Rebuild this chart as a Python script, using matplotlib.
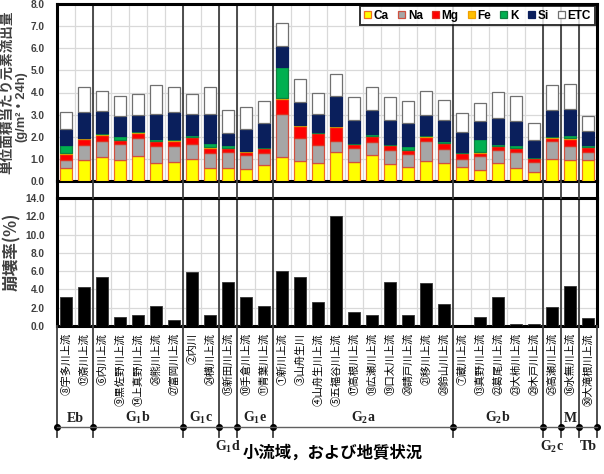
import matplotlib
matplotlib.use("Agg")
import matplotlib.pyplot as plt
import numpy as np
from matplotlib.patches import Patch
from matplotlib.lines import Line2D
from matplotlib.text import Text
from matplotlib.transforms import blended_transform_factory
from matplotlib.ticker import FormatStrFormatter

plt.rcParams['font.family'] = ['Liberation Sans', 'Noto Sans CJK JP', 'DejaVu Sans']
plt.rcParams['mathtext.default'] = 'regular'

stations = ["⑧宇多川上流", "⑫斎川上流", "⑥内川上流", "⑨黒佐野川上流", "⑭上真野川上流",
            "㉖熊川上流", "㉗富岡川上流", "②内川", "㉔横川上流", "⑮新田川上流",
            "⑩手倉川上流", "⑪青葉川上流", "①新川上流", "③山舟生川", "④山舟生川上流",
            "⑤五福谷川上流", "⑰高根川上流", "⑱広瀬川上流", "⑲口太川上流", "⑳請戸川上流",
            "㉑移川上流", "㉘鈴山川上流", "⑦蔵川上流", "⑬真野川上流", "㉒葛尾川上流",
            "㉓大柿川上流", "㉙木戸川上流", "㉕高瀬川上流", "⑯水無川上流", "㉚大滝根川上流"]

# segment values (g/m2/24h)
Ca = [0.61, 0.94, 1.09, 0.97, 1.15, 0.83, 0.88, 1.00, 0.61, 0.58,
      0.54, 0.71, 1.09, 0.91, 0.83, 1.31, 0.86, 1.18, 0.79, 0.64,
      0.91, 0.82, 0.65, 0.49, 0.80, 0.58, 0.42, 1.00, 0.94, 0.95]
Na = [0.33, 0.68, 0.71, 0.68, 0.81, 0.75, 0.71, 0.68, 0.67, 0.74,
      0.64, 0.55, 1.96, 1.04, 0.79, 0.49, 0.61, 0.59, 0.61, 0.57,
      0.89, 0.61, 0.36, 0.64, 0.60, 0.74, 0.43, 0.83, 0.64, 0.37]
Mg = [0.30, 0.30, 0.30, 0.20, 0.23, 0.22, 0.24, 0.30, 0.22, 0.15,
      0.14, 0.21, 0.66, 0.54, 0.54, 0.66, 0.18, 0.25, 0.22, 0.17,
      0.21, 0.27, 0.25, 0.15, 0.18, 0.15, 0.18, 0.12, 0.34, 0.21]
Fe = [0.02, 0.02, 0.02, 0.02, 0.02, 0.02, 0.02, 0.02, 0.02, 0.02,
      0.02, 0.02, 0.02, 0.02, 0.02, 0.02, 0.02, 0.02, 0.02, 0.02,
      0.02, 0.02, 0.02, 0.02, 0.02, 0.02, 0.02, 0.02, 0.02, 0.02]
K = [0.36, 0.01, 0.07, 0.18, 0.04, 0.08, 0.05, 0.07, 0.21, 0.13,
     0.01, 0.04, 1.43, 0.03, 0.04, 0.01, 0.06, 0.10, 0.04, 0.18,
     0.07, 0.11, 0.01, 0.60, 0.05, 0.12, 0.04, 0.08, 0.16, 0.07]
Si = [0.73, 1.16, 0.96, 0.91, 0.74, 1.11, 1.21, 0.97, 1.28, 0.55,
      1.00, 1.07, 0.96, 1.05, 0.80, 1.37, 1.04, 1.07, 1.06, 1.02,
      0.88, 0.94, 0.91, 0.82, 1.19, 1.11, 0.77, 1.15, 1.16, 0.66]
ETC = [0.76, 1.16, 0.94, 0.88, 0.94, 1.35, 1.16, 0.89, 1.26, 1.04,
       0.98, 1.03, 1.02, 1.01, 0.95, 0.99, 1.02, 1.05, 1.04, 1.02,
       1.08, 0.89, 0.88, 0.81, 1.18, 1.10, 0.77, 1.12, 1.14, 0.65]

collapse = [3.2, 4.3, 5.35, 0.95, 1.2, 2.2, 0.7, 5.95, 1.2, 4.8,
            3.2, 2.2, 6.0, 5.4, 2.6, 12.0, 1.55, 1.2, 4.8, 1.25,
            4.75, 2.45, 0.0, 1.0, 3.2, 0.2, 0.2, 2.05, 4.4, 0.9]

series_names = ["Ca", "Na", "Mg", "Fe", "K", "Si", "ETC"]
series_vals = [Ca, Na, Mg, Fe, K, Si, ETC]
face_colors = ["#FFFF00", "#A6A6A6", "#FF0000", "#FFC000", "#00B050", "#0A1F5C", "#FFFFFF"]
edge_colors = ["#F07020", "#D05040", "#E03020", "#F0A000", "#108040", "#0A1F5C", "#707070"]

groups = ["Eb", "G$_1$b", "G$_1$c", "G$_1$d", "G$_1$e", "G$_2$a", "G$_2$b", "G$_2$c", "M", "Tb"]
group_sizes = [2, 5, 2, 1, 2, 10, 5, 1, 1, 1]
group_low = [False, False, False, True, False, False, False, True, False, True]

W, H = 604, 474
fig = plt.figure(figsize=(W / 100, H / 100), dpi=100)
def fx(px): return px / W
def fy(py): return 1 - py / H

L, R = 57, 597
ax1 = fig.add_axes([fx(L), fy(181), fx(R) - fx(L), fy(4) - fy(181)])
ax2 = fig.add_axes([fx(L), fy(326), fx(R) - fx(L), fy(198) - fy(326)])

n = len(stations)
x = np.arange(1, n + 1)
bw = 0.68

bottom = np.zeros(n)
for name, vals, fc, ec in zip(series_names, series_vals, face_colors, edge_colors):
    v = np.array(vals)
    ax1.bar(x, v, bw, bottom=bottom, color=fc, edgecolor=ec, linewidth=0.9, zorder=3)
    bottom += v

ax2.bar(x, collapse, bw, color="black", edgecolor="#333333", linewidth=0.6, zorder=3)

bounds = np.concatenate([[0.5], 0.5 + np.cumsum(group_sizes)])

for ax, ymax, step in [(ax1, 8, 1), (ax2, 14, 2)]:
    ax.set_xlim(0.5, n + 0.5)
    ax.set_ylim(0, ymax)
    ax.set_yticks(np.arange(0, ymax + 0.01, step))
    ax.yaxis.set_major_formatter(FormatStrFormatter('%.1f'))
    ax.set_xticks(np.arange(1.5, n, 1), minor=True)
    ax.grid(True, which='major', axis='y', color='#D9D9D9', linewidth=0.9, zorder=0)
    ax.grid(True, which='minor', axis='x', color='#D9D9D9', linewidth=0.9, zorder=0)
    ax.set_axisbelow(True)
    ax.tick_params(axis='y', length=0, pad=9, labelsize=7.3, labelcolor='#404040')
    ax.tick_params(axis='x', which='both', length=0)
    for lab in ax.get_yticklabels():
        lab.set_fontweight('bold')
    for sp in ax.spines.values():
        sp.set_linewidth(2.2)
        sp.set_color('black')
    for b in bounds[1:-1]:
        ax.axvline(b, color='#404040', linewidth=1.3, zorder=2.5)

ax1.set_xticks([])
ax2.set_xticks(x)
ax2.set_xticklabels(stations, rotation=90, fontsize=7.5,
                    family=['Noto Sans CJK JP', 'DejaVu Sans'], va='top', ha='center')
ax2.tick_params(axis='x', which='major', length=0, pad=5)

# separators through the gap and the label area
bt = blended_transform_factory(ax2.transData, fig.transFigure)
for b in bounds:
    fig.add_artist(Line2D([b, b], [fy(198), fy(181)], transform=bt, color='#404040', linewidth=1.3))
    fig.add_artist(Line2D([b, b], [fy(437), fy(326)], transform=bt, color='#404040', linewidth=1.3))
    fig.add_artist(Line2D([b], [fy(427)], transform=bt, marker='o', markersize=4, color='black'))
fig.add_artist(Line2D([bounds[0], bounds[-1]], [fy(427), fy(427)], transform=bt,
                      color='#606060', linewidth=1.0))
for b in [bounds[0], bounds[-1]]:
    fig.add_artist(Line2D([b, b], [fy(198), fy(181)], transform=bt, color='black', linewidth=2.2))

# group labels
for g, lo, hi, low in zip(groups, bounds[:-1], bounds[1:], group_low):
    cx = (lo + hi) / 2
    y = fy(447) if low else fy(418)
    fig.add_artist(Text(cx, y, g, transform=bt, ha='center', va='center', fontsize=10,
                        fontweight='bold', family='Liberation Serif', color='#202020'))

fig.text(fx(333), fy(453), "小流域，および地質状況", ha='center', va='center', fontsize=11.8,
         fontweight='bold', family=['Noto Sans CJK JP', 'DejaVu Sans'])

cjk = ['Noto Sans CJK JP', 'DejaVu Sans']
fig.text(fx(7), fy(92), "単位面積当たり元素流出量", rotation=90, ha='center', va='center',
         fontsize=9.8, fontweight='bold', family=cjk, color='#404040')
fig.text(fx(21.5), fy(107), "(g/m²・24h)", rotation=90, ha='center', va='center',
         fontsize=9.3, fontweight='bold', family=['Liberation Sans', 'Noto Sans CJK JP'],
         color='#404040')
fig.text(fx(12), fy(252), "崩壊率(%)", rotation=90, ha='center', va='center',
         fontsize=12, fontweight='bold', family=cjk, color='#404040')

handles = [Patch(facecolor=fc, edgecolor=ec, linewidth=0.9) for fc, ec in zip(face_colors, edge_colors)]
leg = ax1.legend(handles, series_names, loc='upper right', ncol=7, frameon=True, fancybox=False,
                 handlelength=0.6, handleheight=0.6, handletextpad=0.25, columnspacing=0.75,
                 borderpad=0.3, borderaxespad=0.2, prop=dict(size=8.5, weight='bold'))
leg.get_frame().set_edgecolor('black')
leg.get_frame().set_linewidth(1.4)
leg.set_zorder(10)

fig.savefig("out.png", dpi=100)
